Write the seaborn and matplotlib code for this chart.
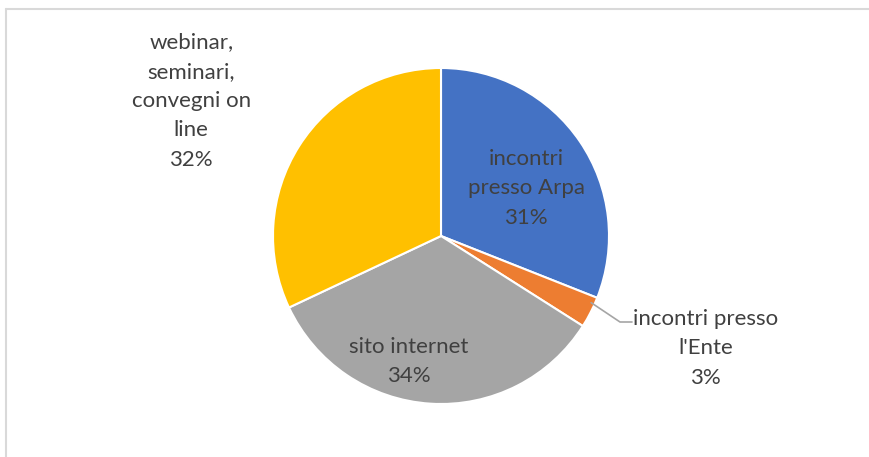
import numpy as np
import matplotlib
matplotlib.use("Agg")
import matplotlib.pyplot as plt
import seaborn as sns

categories = ["incontri\npresso Arpa", "incontri presso\nl'Ente", "sito internet", "webinar,\nseminari,\nconvegni on\nline"]
values = [31, 3, 34, 32]
colors = ["#4472C4", "#ED7D31", "#A5A5A5", "#FFC000"]

sns.set_theme(style="white")
plt.rcParams['font.family'] = ['Lato', 'DejaVu Sans']

W, H = 869, 457
fig = plt.figure(figsize=(W / 100, H / 100), dpi=100)
ax = fig.add_axes([0, 0, 1, 1])
cx, cy, R = 441, 236, 168

wedges, _ = ax.pie(values, colors=colors, startangle=90, counterclock=False,
                   radius=1, center=(0, 0), frame=True,
                   wedgeprops=dict(edgecolor='white', linewidth=1.5))
ax.set_xlim(-cx / R, (W - cx) / R)
ax.set_ylim(-(H - cy) / R, cy / R)
ax.set_aspect('equal')
ax.axis('off')

# label placement: (distance, angle offset from wedge mid)
place = [(0.58, -5), (1.71, 4), (0.77, -11), (1.69, 4)]
total = sum(values)
for w, cat, v, (d, off) in zip(wedges, categories, values, place):
    mid = np.deg2rad((w.theta1 + w.theta2) / 2 + off)
    x, y = d * np.cos(mid), d * np.sin(mid)
    ax.text(x, y, f"{cat}\n{round(100 * v / total)}%", ha='center', va='center',
            fontsize=16, color='#404040', linespacing=1.58)

# leader line for small slice
w = wedges[1]
m = np.deg2rad((w.theta1 + w.theta2) / 2 + 3)
p0 = (np.cos(m), np.sin(m))
ax.plot([p0[0] - 0.02, (620 - cx) / R, (632 - cx) / R],
        [p0[1] + 0.01, -(322 - cy) / R, -(322 - cy) / R], color='#A5A5A5', lw=1.2)

# frame (partially cropped)
fig.add_artist(plt.Line2D([5.5 / W, 5.5 / W], [0, 1 - 8.5 / H], transform=fig.transFigure,
                          color='#D9D9D9', lw=1.5))
fig.add_artist(plt.Line2D([5.5 / W, 1], [1 - 8.5 / H, 1 - 8.5 / H], transform=fig.transFigure,
                          color='#D9D9D9', lw=1.5))

fig.savefig("out.png", dpi=100, facecolor='white')
